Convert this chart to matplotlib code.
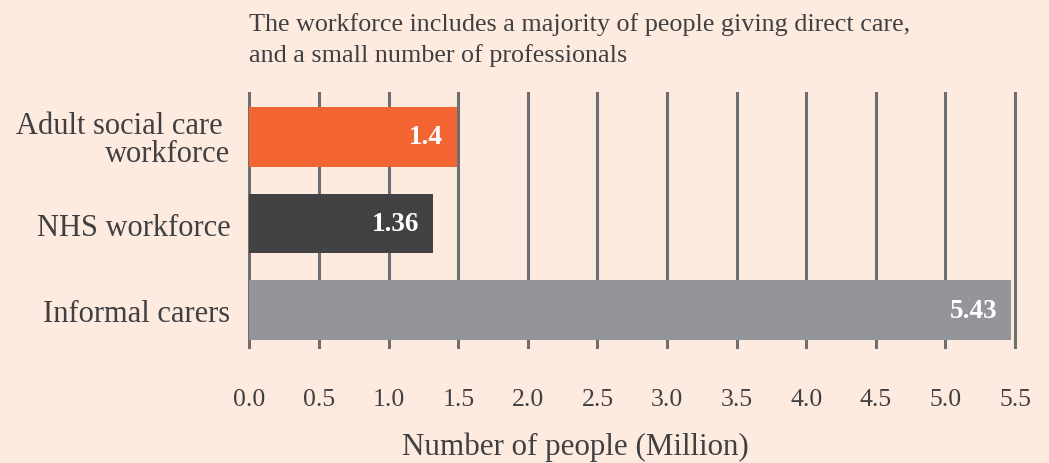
import matplotlib
matplotlib.use("Agg")
import matplotlib.pyplot as plt

categories = ["Adult social care \nworkforce", "NHS workforce", "Informal carers"]
values = [1.49, 1.32, 5.47]
value_labels = ["1.4", "1.36", "5.43"]
colors = ["#f26532", "#424244", "#939598"]
xticks = [0.0, 0.5, 1.0, 1.5, 2.0, 2.5, 3.0, 3.5, 4.0, 4.5, 5.0, 5.5]

bg = "#fdebe0"
text_col = "#404042"

plt.rcParams["font.family"] = ["Liberation Serif", "DejaVu Serif"]

fig = plt.figure(figsize=(10.49, 4.64), dpi=100, facecolor=bg)
ax = fig.add_axes([0.2357, 0.2457, 0.7341, 0.5539])
ax.set_facecolor(bg)

y = list(range(len(categories)))
ax.barh(y, values, height=0.69, color=colors, zorder=3)

for yi, v, lab in zip(y, values, value_labels):
    ax.annotate(lab, (v, yi), xytext=(-10, 0), textcoords="offset points",
                ha="right", va="center", color="white",
                fontsize=19.5, fontweight="bold", zorder=4)

ax.set_xlim(-0.016, 5.516)
ax.set_ylim(2.45, -0.52)
ax.set_xticks(xticks)
ax.set_xticklabels([f"{t:.1f}" for t in xticks])
ax.set_yticks(y)
ax.set_yticklabels(categories)
ax.tick_params(axis="x", length=0, pad=28, labelsize=18.5, labelcolor=text_col)
ax.tick_params(axis="y", length=0, pad=12, labelsize=22, labelcolor=text_col)
for lab in ax.get_yticklabels():
    lab.set_horizontalalignment("right")
    lab.set_multialignment("right")
    lab.set_linespacing(0.95)

ax.grid(axis="x", color="#6d6e71", linewidth=2.2, zorder=1)
ax.grid(axis="y", visible=False)
for s in ax.spines.values():
    s.set_visible(False)

ax.set_xlabel("Number of people (Million)", fontsize=22.3, color=text_col, va="center")
ax.xaxis.set_label_coords(0.4256, -0.377)

fig.text(0.2374, 0.948, "The workforce includes a majority of people giving direct care,",
         fontsize=18.8, color=text_col, ha="left", va="center")
fig.text(0.2374, 0.881, "and a small number of professionals",
         fontsize=18.8, color=text_col, ha="left", va="center")

fig.savefig("out.png", dpi=100, facecolor=bg)
